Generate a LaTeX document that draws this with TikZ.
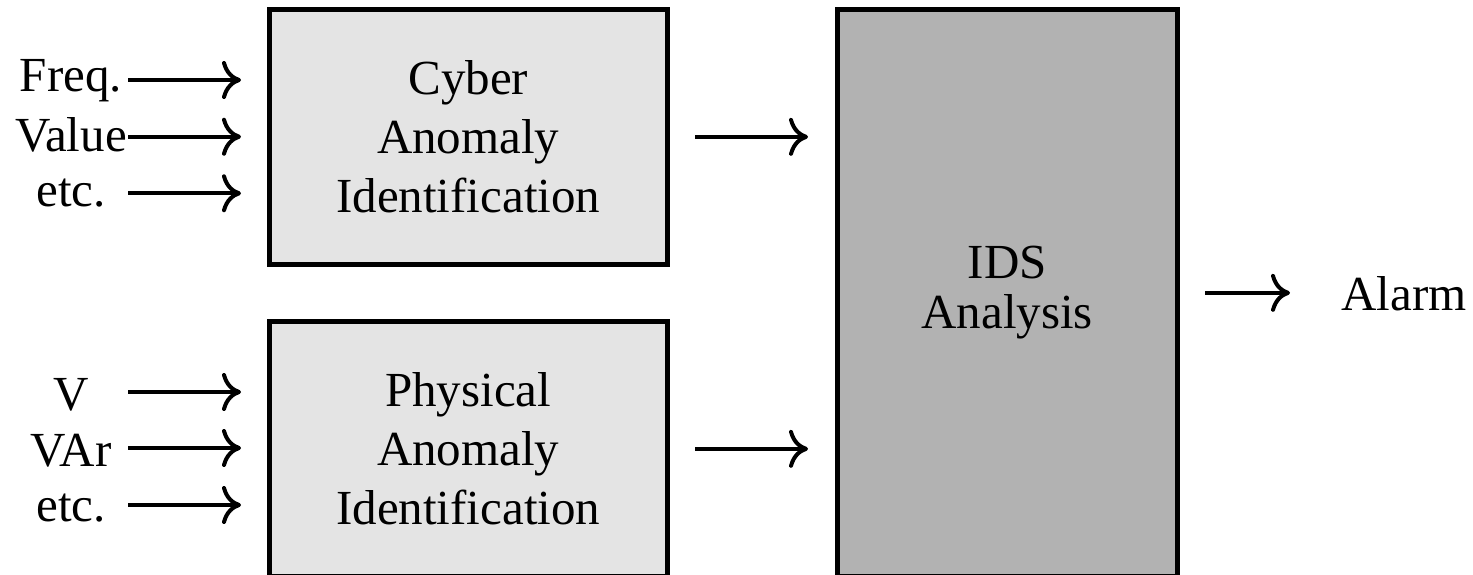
\documentclass[tikz,border=0pt]{standalone}
\usepackage{fontspec}
\setmainfont{Liberation Serif}
\usetikzlibrary{arrows.meta}
\definecolor{lightbox}{HTML}{E4E4E4}
\definecolor{darkbox}{HTML}{B2B2B2}
\tikzset{
  block/.style={draw=black, line width=2.5pt, align=center, inner sep=0pt,
    font=\fontsize{24.5}{29.5}\selectfont},
  sidelabel/.style={anchor=base, inner sep=0pt, font=\fontsize{24.5}{29}\selectfont},
  arr/.style={line width=2pt, -{Computer Modern Rightarrow[length=9.5pt,width=19pt,line width=2pt]}}
}
\begin{document}
\begin{tikzpicture}[x=0.5pt, y=-0.5pt]
  \useasboundingbox (0,0) rectangle (1473,574);
  \clip (0,0) rectangle (1473,574);

  % processing blocks
  \node[block, fill=lightbox, minimum width=198.75pt, minimum height=127.85pt]
    (cyber) at (468.25,136.85) {Cyber\\Anomaly\\Identification};
  \node[block, fill=lightbox, minimum width=198.75pt, minimum height=127.85pt]
    (phys) at (468.25,448.85) {Physical\\Anomaly\\Identification};
  \node[block, fill=darkbox, minimum width=170.25pt, minimum height=283.85pt,
    font=\fontsize{24.5}{25}\selectfont]
    (ids) at (1007.25,292.85) {IDS\\Analysis};

  % input labels
  \node[sidelabel] (freq) at (71,91.7) {Freq.};
  \node[sidelabel] (value) at (71,151.7) {Value};
  \node[sidelabel] (etcA) at (71,206.7) {etc.};
  \node[sidelabel] (volt) at (71,410) {V};
  \node[sidelabel] (var) at (71,466) {VAr};
  \node[sidelabel] (etcB) at (71,521.7) {etc.};
  \node[sidelabel, anchor=base west] (alarm) at (1341,310) {Alarm};

  % arrow tails of the inputs
  \coordinate (in1) at (128,80);
  \coordinate (in2) at (128,136.7);
  \coordinate (in3) at (128,193.3);
  \coordinate (in4) at (128,392);
  \coordinate (in5) at (128,448);
  \coordinate (in6) at (128,505);

  \foreach \c in {in1,in2,in3}
    \draw[arr, shorten >=13pt] (\c) -- (\c -| cyber.west);
  \foreach \c in {in4,in5,in6}
    \draw[arr, shorten >=13pt] (\c) -- (\c -| phys.west);

  \draw[arr, shorten <=12.75pt, shorten >=13.25pt] (cyber.east) -- (cyber.east -| ids.west);
  \draw[arr, shorten <=12.75pt, shorten >=13.25pt] (phys.east) -- (phys.east -| ids.west);
  \draw[arr, shorten <=12.5pt, shorten >=25.5pt] (ids.east) -- (ids.east -| alarm.west);
\end{tikzpicture}
\end{document}
